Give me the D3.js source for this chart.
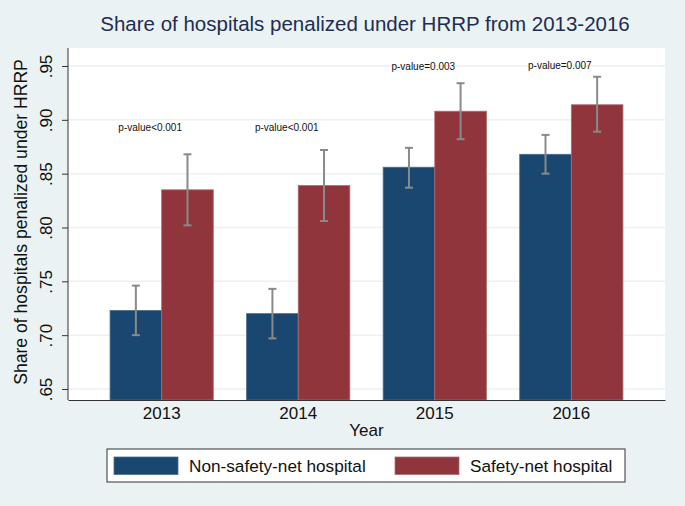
<!DOCTYPE html>
<html lang="en">
<head>
  <meta charset="UTF-8" />
  <title>Share of hospitals penalized under HRRP</title>
  <style>
    body {
      margin: 0;
      background: #eaf2f3;
    }
    svg {
      display: block;
      font-family: "Liberation Sans", Arial, sans-serif;
    }
  </style>
</head>
<body>
  <div id="chart"></div>

  <script src="https://d3js.org/d3.v7.min.js"></script>
  <script>
    // Data
    const years = ["2013", "2014", "2015", "2016"];
    const series = ["Non-safety-net hospital", "Safety-net hospital"];
    const nonSafetyNet = [0.723, 0.720, 0.856, 0.868];
    const nonSafetyNetLow = [0.700, 0.697, 0.837, 0.850];
    const nonSafetyNetHigh = [0.746, 0.743, 0.874, 0.886];
    const safetyNet = [0.835, 0.839, 0.908, 0.914];
    const safetyNetLow = [0.802, 0.806, 0.882, 0.889];
    const safetyNetHigh = [0.868, 0.872, 0.934, 0.940];
    const pValues = ["p-value<0.001", "p-value<0.001", "p-value=0.003", "p-value=0.007"];
    const pLabelY = [0.890, 0.890, 0.946, 0.947];
    const yTicks = [0.65, 0.70, 0.75, 0.80, 0.85, 0.90, 0.95];

    const colors = ["#1a476f", "#90353b"];
    const edges = ["#4a6f90", "#b06a70"];

    const W = 685, H = 506;
    const plot = { left: 68, right: 665, top: 48, bottom: 400 };

    const svg = d3.select("#chart").append("svg")
      .attr("width", W)
      .attr("height", H);

    // background + plot region
    svg.append("rect").attr("width", W).attr("height", H).attr("fill", "#eaf2f3");
    svg.append("rect")
      .attr("x", plot.left).attr("y", plot.top)
      .attr("width", plot.right - plot.left)
      .attr("height", plot.bottom - plot.top)
      .attr("fill", "#ffffff");

    // scales
    const x = d3.scaleBand()
      .domain(years)
      .range([plot.left, plot.right])
      .paddingInner(0.244)
      .paddingOuter(0.308);

    const x1 = d3.scaleBand()
      .domain(series)
      .range([0, x.bandwidth()]);

    const y = d3.scaleLinear()
      .domain([0.65, 0.95])
      .range([389, 66]);

    // gridlines
    svg.append("g")
      .selectAll("line")
      .data(yTicks)
      .enter()
      .append("line")
      .attr("x1", plot.left)
      .attr("x2", plot.right)
      .attr("y1", d => y(d))
      .attr("y2", d => y(d))
      .attr("stroke", "#eaf2f3")
      .attr("stroke-width", 1.5);

    // rows per series
    const rows = [
      { name: series[0], vals: nonSafetyNet, lo: nonSafetyNetLow, hi: nonSafetyNetHigh, i: 0 },
      { name: series[1], vals: safetyNet, lo: safetyNetLow, hi: safetyNetHigh, i: 1 }
    ];

    const bars = [];
    rows.forEach(r => {
      years.forEach((yr, j) => {
        bars.push({ year: yr, name: r.name, v: r.vals[j], lo: r.lo[j], hi: r.hi[j], i: r.i });
      });
    });

    // bars
    svg.append("g")
      .selectAll("rect")
      .data(bars)
      .enter()
      .append("rect")
      .attr("x", d => x(d.year) + x1(d.name))
      .attr("y", d => y(d.v))
      .attr("width", x1.bandwidth())
      .attr("height", d => plot.bottom - y(d.v))
      .attr("fill", d => colors[d.i])
      .attr("stroke", d => edges[d.i])
      .attr("stroke-width", 0.8);

    // error bars
    const eb = svg.append("g")
      .attr("stroke", "#8a8a8a")
      .attr("stroke-width", 2)
      .attr("fill", "none");
    const cx = d => x(d.year) + x1(d.name) + x1.bandwidth() / 2;
    const cap = 4;

    eb.selectAll(".stem").data(bars).enter().append("line")
      .attr("x1", cx).attr("x2", cx)
      .attr("y1", d => y(d.lo)).attr("y2", d => y(d.hi));
    eb.selectAll(".capHi").data(bars).enter().append("line")
      .attr("x1", d => cx(d) - cap).attr("x2", d => cx(d) + cap)
      .attr("y1", d => y(d.hi)).attr("y2", d => y(d.hi));
    eb.selectAll(".capLo").data(bars).enter().append("line")
      .attr("x1", d => cx(d) - cap).attr("x2", d => cx(d) + cap)
      .attr("y1", d => y(d.lo)).attr("y2", d => y(d.lo));

    // p-value labels
    svg.append("g")
      .selectAll("text")
      .data(years)
      .enter()
      .append("text")
      .attr("x", d => x(d) + x.bandwidth() / 2)
      .attr("dx", -11.5)
      .attr("y", (d, i) => y(pLabelY[i]))
      .attr("text-anchor", "middle")
      .attr("font-size", 10)
      .attr("fill", "#111")
      .text((d, i) => pValues[i]);

    // y axis
    const yAxis = svg.append("g")
      .attr("transform", `translate(${plot.left},0)`)
      .call(d3.axisLeft(y)
        .tickValues(yTicks)
        .tickSize(6)
        .tickFormat(d => d3.format(".2f")(d).replace(/^0/, "")));
    yAxis.select(".domain").remove();
    yAxis.selectAll(".tick line").attr("stroke", "#333");
    yAxis.selectAll("text")
      .attr("x", 0)
      .attr("dy", 0)
      .attr("transform", "translate(-16,0) rotate(-90)")
      .attr("text-anchor", "middle")
      .attr("font-size", 17)
      .attr("font-family", "\"Liberation Sans\", Arial, sans-serif")
      .attr("fill", "#111");

    svg.append("line")
      .attr("x1", plot.left).attr("x2", plot.left)
      .attr("y1", plot.top).attr("y2", plot.bottom)
      .attr("stroke", "#333");

    // x axis
    const xAxis = svg.append("g")
      .attr("transform", `translate(0,${plot.bottom})`)
      .call(d3.axisBottom(x).tickSize(0).tickPadding(7));
    xAxis.select(".domain").attr("stroke", "#333");
    xAxis.selectAll("text")
      .attr("font-size", 17)
      .attr("font-family", "\"Liberation Sans\", Arial, sans-serif")
      .attr("fill", "#111");

    // axis titles
    svg.append("text")
      .attr("x", (plot.left + plot.right) / 2)
      .attr("y", 436)
      .attr("text-anchor", "middle")
      .attr("font-size", 17)
      .attr("fill", "#111")
      .text("Year");

    svg.append("text")
      .attr("transform", "translate(27,222) rotate(-90)")
      .attr("text-anchor", "middle")
      .attr("font-size", 17.6)
      .attr("fill", "#111")
      .text("Share of hospitals penalized under HRRP");

    // title
    svg.append("text")
      .attr("x", 365)
      .attr("y", 31)
      .attr("text-anchor", "middle")
      .attr("font-size", 20.5)
      .attr("fill", "#1e2d52")
      .text("Share of hospitals penalized under HRRP from 2013-2016");

    // legend
    const legend = svg.append("g");
    legend.append("rect")
      .attr("x", 107).attr("y", 449)
      .attr("width", 518).attr("height", 33)
      .attr("fill", "#fff")
      .attr("stroke", "#333");

    const legendX = [114, 395];
    const items = legend.selectAll(".item")
      .data(series)
      .enter()
      .append("g")
      .attr("transform", (d, i) => `translate(${legendX[i]},457)`);
    items.append("rect")
      .attr("width", 64)
      .attr("height", 17.5)
      .attr("fill", (d, i) => colors[i])
      .attr("stroke", (d, i) => edges[i])
      .attr("stroke-width", 0.8);
    items.append("text")
      .attr("x", 75)
      .attr("y", 15)
      .attr("font-size", 17.2)
      .attr("fill", "#111")
      .text(d => d);
  </script>
</body>
</html>
